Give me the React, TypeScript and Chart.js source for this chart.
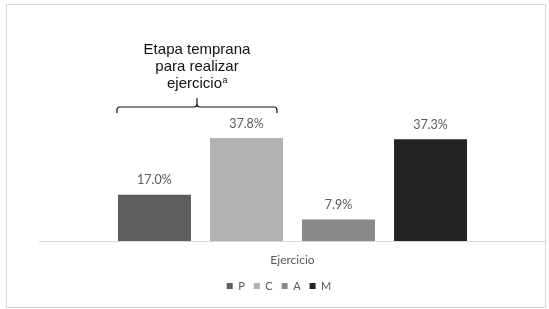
import React, { useEffect, useRef } from 'react';
import { Chart, registerables } from 'chart.js';

Chart.register(...registerables);

const categories = ['Ejercicio'];
const seriesNames = ['P', 'C', 'A', 'M'];
const seriesValues = [17.0, 37.8, 7.9, 37.3];
const seriesColors = ['#5e5e5e', '#b1b1b1', '#898989', '#232323'];
const annotationLines = ['Etapa temprana', 'para realizar', 'ejercicio'];
const annotationSup = 'a';
const yMax = 40;

const framePlugin = {
  id: 'frame',
  beforeDraw(chart: any) {
    const ctx = chart.ctx;
    ctx.save();
    ctx.fillStyle = '#ffffff';
    ctx.fillRect(0, 0, chart.width, chart.height);
    ctx.strokeStyle = '#d9d9d9';
    ctx.lineWidth = 1;
    ctx.strokeRect(6.5, 4.5, 539, 303);
    ctx.restore();
  },
};

const labelsPlugin = {
  id: 'valueLabels',
  afterDatasetsDraw(chart: any) {
    const ctx = chart.ctx;
    ctx.save();
    ctx.fillStyle = '#595959';
    ctx.font = '12.5px Lato';
    ctx.textAlign = 'center';
    ctx.textBaseline = 'middle';
    chart.data.datasets.forEach((ds: any, i: number) => {
      const meta = chart.getDatasetMeta(i);
      meta.data.forEach((el: any, j: number) => {
        const v = ds.data[j] as number;
        ctx.fillText(v.toFixed(1) + '%', el.x, el.y - 14.5);
      });
    });
    ctx.restore();
  },
};

const annotationPlugin = {
  id: 'braceAnnotation',
  afterDraw(chart: any) {
    const ctx = chart.ctx;
    const b0 = chart.getDatasetMeta(0).data[0];
    const b1 = chart.getDatasetMeta(1).data[0];
    const left = b0.x - b0.width / 2 - 1;
    const right = b1.x + b1.width / 2 - 6;
    const mid = (left + right) / 2;
    const yLine = chart.chartArea.top - 25;
    const yEnd = yLine + 6;
    const yTip = yLine - 9;
    const r = 3;
    ctx.save();
    ctx.strokeStyle = '#111111';
    ctx.lineWidth = 1.2;
    ctx.beginPath();
    ctx.moveTo(left, yEnd);
    ctx.lineTo(left, yLine + r);
    ctx.quadraticCurveTo(left, yLine, left + r, yLine);
    ctx.lineTo(mid - r, yLine);
    ctx.quadraticCurveTo(mid, yLine, mid, yLine - r);
    ctx.lineTo(mid, yTip);
    ctx.moveTo(mid, yLine - r);
    ctx.quadraticCurveTo(mid, yLine, mid + r, yLine);
    ctx.lineTo(right - r, yLine);
    ctx.quadraticCurveTo(right, yLine, right, yLine + r);
    ctx.lineTo(right, yEnd);
    ctx.stroke();

    ctx.fillStyle = '#111111';
    ctx.textBaseline = 'middle';
    ctx.font = '15px "Liberation Sans", Arial, sans-serif';
    const ys = [50, 67, 84];
    annotationLines.forEach((line, i) => {
      if (i === annotationLines.length - 1) {
        const w = ctx.measureText(line).width;
        ctx.font = '9px "Liberation Sans", Arial, sans-serif';
        const ws = ctx.measureText(annotationSup).width;
        const x0 = mid - (w + ws) / 2;
        ctx.textAlign = 'left';
        ctx.fillText(annotationSup, x0 + w + 0.5, ys[i] - 3);
        ctx.font = '15px "Liberation Sans", Arial, sans-serif';
        ctx.fillText(line, x0, ys[i]);
      } else {
        ctx.textAlign = 'center';
        ctx.fillText(line, mid, ys[i]);
      }
    });
    ctx.restore();
  },
};

export default function App() {
  const ref = useRef<HTMLCanvasElement | null>(null);
  useEffect(() => {
    if (!ref.current) return;
    const chart = new Chart(ref.current, {
      type: 'bar',
      data: {
        labels: categories,
        datasets: seriesNames.map((n, i) => ({
          label: n,
          data: [seriesValues[i]],
          backgroundColor: seriesColors[i],
          borderWidth: 0,
          categoryPercentage: 0.726,
          barPercentage: 0.793,
        })),
      },
      options: {
        animation: false,
        responsive: false,
        devicePixelRatio: 1,
        layout: { padding: { left: 12, right: 3, top: 132, bottom: 7.5 } },
        scales: {
          x: {
            grid: { display: false, drawTicks: false },
            border: { display: true, color: '#d9d9d9' },
            ticks: { color: '#595959', font: { family: 'Lato', size: 12 }, padding: 12 },
            afterFit: (s: any) => {
              s.height = 30.5;
            },
          },
          y: {
            min: 0,
            max: yMax,
            grid: { display: false },
            border: { display: false },
            ticks: { display: false },
            afterFit: (s: any) => {
              s.width = 27;
            },
          },
        },
        plugins: {
          legend: {
            position: 'bottom',
            labels: {
              boxWidth: 6,
              boxHeight: 6,
              padding: 9,
              color: '#595959',
              font: { family: 'Lato', size: 11 },
            },
          },
          tooltip: { enabled: false },
        },
      },
      plugins: [framePlugin, labelsPlugin, annotationPlugin],
    } as any);
    return () => chart.destroy();
  }, []);
  return (
    <div style={{ position: 'absolute', left: 0, top: 0, width: 549, height: 309 }}>
      <canvas ref={ref} width={549} height={309} style={{ display: 'block' }} />
    </div>
  );
}
